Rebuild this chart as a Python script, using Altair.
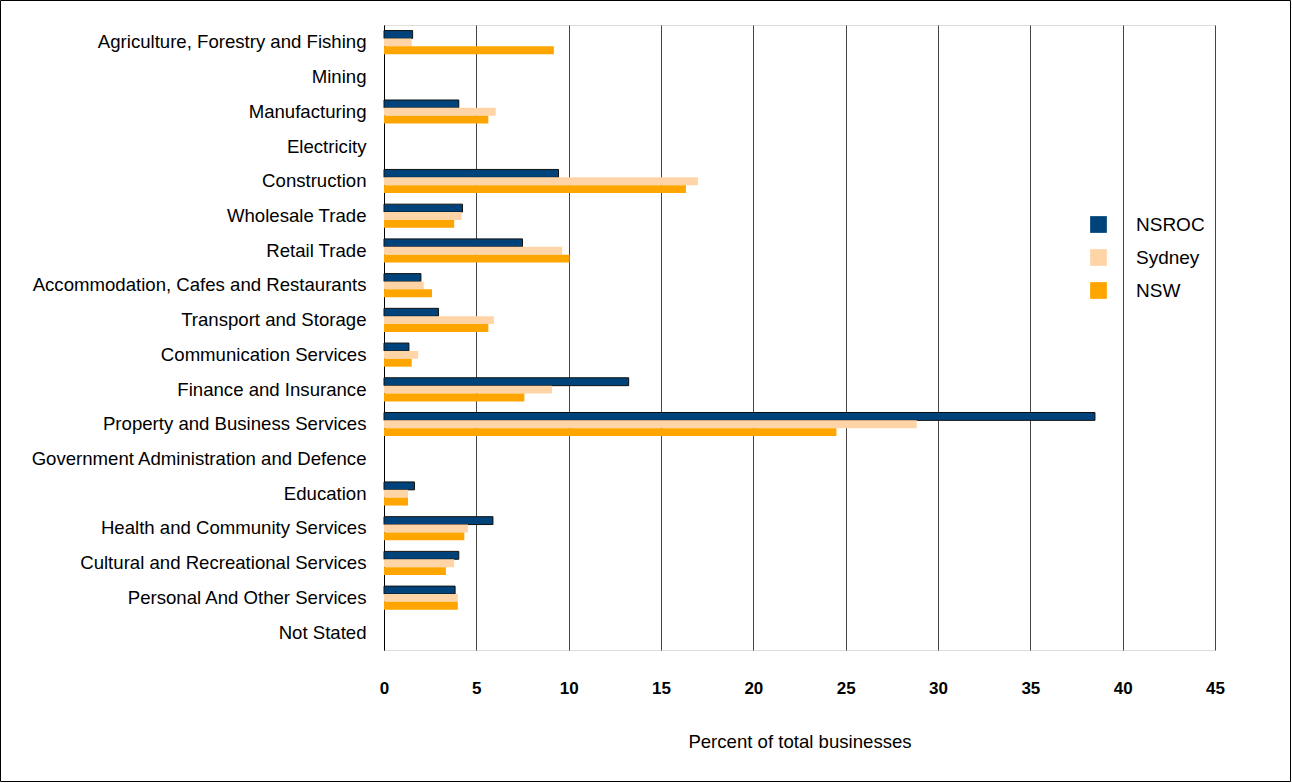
import altair as alt
import pandas as pd

categories = [
    "Agriculture, Forestry and Fishing", "Mining", "Manufacturing", "Electricity",
    "Construction", "Wholesale Trade", "Retail Trade",
    "Accommodation, Cafes and Restaurants", "Transport and Storage",
    "Communication Services", "Finance and Insurance",
    "Property and Business Services", "Government Administration and Defence",
    "Education", "Health and Community Services",
    "Cultural and Recreational Services", "Personal And Other Services", "Not Stated",
]
nsroc = [1.55, 0, 4.05, 0, 9.45, 4.25, 7.5, 2.0, 2.95, 1.35, 13.25, 38.5, 0, 1.65, 5.9, 4.05, 3.85, 0]
sydney = [1.5, 0, 6.05, 0, 17.0, 4.2, 9.65, 2.15, 5.95, 1.85, 9.1, 28.85, 0, 1.3, 4.55, 3.8, 4.0, 0]
nsw = [9.2, 0, 5.65, 0, 16.35, 3.8, 10.05, 2.6, 5.65, 1.5, 7.6, 24.5, 0, 1.3, 4.35, 3.35, 4.0, 0]
series = ["NSROC", "Sydney", "NSW"]
colors = ["#00437A", "#FFD5A8", "#FFA500"]
x_ticks = [0, 5, 10, 15, 20, 25, 30, 35, 40, 45]

rows = []
for i, c in enumerate(categories):
    for s, vals in zip(series, [nsroc, sydney, nsw]):
        rows.append({"category": c, "series": s, "value": vals[i]})
df = pd.DataFrame(rows)

FONT = "Liberation Sans"

bars = alt.Chart(df).mark_bar(strokeWidth=1).encode(
    y=alt.Y("category:N", sort=categories,
            scale=alt.Scale(domain=categories, paddingInner=0.32, paddingOuter=0.16),
            axis=alt.Axis(title=None, labelFontSize=18.6, labelFont=FONT, labelColor="#000",
                          labelPadding=18, ticks=False, domain=True, domainColor="#000",
                          labelLimit=400, grid=False)),
    x=alt.X("value:Q", scale=alt.Scale(domain=[0, 45], nice=False),
            axis=alt.Axis(values=x_ticks, title="Percent of total businesses",
                          titleFontSize=18.6, titleFont=FONT, titleFontWeight="normal",
                          titleColor="#000", titlePadding=36,
                          labelFontSize=17, labelFont=FONT, labelFontWeight="bold",
                          labelColor="#000", labelPadding=30, labelFlush=False,
                          ticks=False, domain=False,
                          grid=True, gridColor="#444", gridWidth=1, gridOpacity=1)),
    yOffset=alt.YOffset("series:N", sort=series),
    color=alt.Color("series:N", sort=series,
                    scale=alt.Scale(domain=series, range=colors),
                    legend=alt.Legend(title=None, orient="none", legendX=705, legendY=190,
                                      symbolType="square", symbolSize=280,
                                      symbolStrokeWidth=0, labelFontSize=19,
                                      labelFont=FONT, labelColor="#000",
                                      labelOffset=28, rowPadding=13)),
    stroke=alt.condition(alt.datum.series == "NSROC", alt.value("#111"), alt.value(None)),
).transform_filter(alt.datum.value > 0)

border = alt.Chart(pd.DataFrame({"a": [0]})).mark_rect(
    filled=False, stroke="#000", strokeWidth=1
).encode(
    x=alt.value(-383.5), x2=alt.value(906.5), y=alt.value(-24.5), y2=alt.value(756.5)
)

chart = alt.layer(bars, border).properties(
    width=831, height=625,
    padding={"left": 384, "top": 25, "right": 77, "bottom": 133},
    autosize="none",
).configure_view(stroke=None).configure(background="white")

chart.save("out.html", embed_options={"renderer": "svg", "actions": False})
